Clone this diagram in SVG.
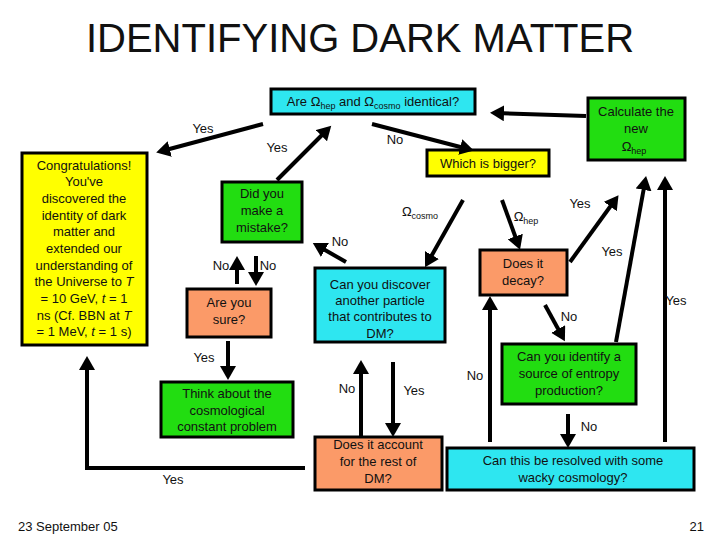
<svg xmlns="http://www.w3.org/2000/svg" width="720" height="540" viewBox="0 0 720 540">
<style>
text{font-family:"Liberation Sans",Arial,sans-serif;font-size:13px;fill:#111}
.b{stroke:#000;stroke-width:3}
.c{fill:#2ee6f0}.g{fill:#22dd11}.y{fill:#ffff00}.s{fill:#fb9a68}
.t{text-anchor:middle}
.l{stroke:#000;stroke-width:4;fill:none}
.a{marker-end:url(#ah)}
</style>
<defs><marker id="ah" markerWidth="4" markerHeight="4" refX="2" refY="2" orient="auto" markerUnits="strokeWidth"><path d="M0,0L3.5,2L0,4z" fill="#000"/></marker></defs>
<rect width="720" height="540" fill="#fff"/>
<text x="360" y="52" class="t" style="font-size:40px">IDENTIFYING DARK MATTER</text>
<g id="n-are"><rect x="271" y="89" width="204" height="25" class="b c"/><text x="373" y="106" class="t">Are Ω<tspan font-size="9" dy="3">hep</tspan><tspan dy="-3"> and Ω</tspan><tspan font-size="9" dy="3">cosmo</tspan><tspan dy="-3"> identical?</tspan></text></g>
<g id="n-calc"><rect x="588" y="98" width="97" height="62" class="b g"/><text class="t"><tspan x="636" y="116">Calculate the</tspan><tspan x="636" y="133">new</tspan><tspan x="634" y="151">Ω</tspan><tspan font-size="9" dy="3">hep</tspan></text></g>
<g id="n-congrats"><rect x="22" y="153" width="125" height="192" class="b y"/><text class="t"><tspan x="84" y="170">Congratulations!</tspan><tspan x="84" y="186">You've</tspan><tspan x="84" y="203">discovered the</tspan><tspan x="84" y="220">identity of dark</tspan><tspan x="84" y="236">matter and</tspan><tspan x="84" y="253">extended our</tspan><tspan x="84" y="270">understanding of</tspan><tspan x="84" y="286">the Universe to <tspan font-style="italic">T</tspan></tspan><tspan x="84" y="303">= 10 GeV, <tspan font-style="italic">t</tspan> = 1</tspan><tspan x="84" y="320">ns (Cf. BBN at <tspan font-style="italic">T</tspan></tspan><tspan x="84" y="336">= 1 MeV, <tspan font-style="italic">t</tspan> = 1 s)</tspan></text></g>
<g id="n-which"><rect x="427" y="150" width="122" height="26" class="b y"/><text x="488" y="168" class="t">Which is bigger?</text></g>
<g id="n-did"><rect x="222" y="182" width="80" height="60" class="b g"/><text class="t"><tspan x="262" y="198">Did you</tspan><tspan x="262" y="215">make a</tspan><tspan x="262" y="232">mistake?</tspan></text></g>
<g id="n-does"><rect x="480" y="250" width="87" height="45" class="b s"/><text class="t"><tspan x="523" y="268">Does it</tspan><tspan x="523" y="285">decay?</tspan></text></g>
<g id="n-sure"><rect x="187" y="289" width="84" height="48" class="b s"/><text class="t"><tspan x="229" y="307">Are you</tspan><tspan x="229" y="324">sure?</tspan></text></g>
<g id="n-discover"><rect x="315" y="268" width="130" height="74" class="b c"/><text class="t"><tspan x="380" y="289">Can you discover</tspan><tspan x="380" y="305">another particle</tspan><tspan x="380" y="321">that contributes to</tspan><tspan x="380" y="338">DM?</tspan></text></g>
<g id="n-entropy"><rect x="502" y="344" width="134" height="60" class="b g"/><text class="t"><tspan x="569" y="361">Can you identify a</tspan><tspan x="569" y="378">source of entropy</tspan><tspan x="569" y="395">production?</tspan></text></g>
<g id="n-think"><rect x="161" y="382" width="132" height="55" class="b g"/><text class="t"><tspan x="227" y="398">Think about the</tspan><tspan x="227" y="415">cosmological</tspan><tspan x="227" y="431">constant problem</tspan></text></g>
<g id="n-account"><rect x="315" y="437" width="127" height="53" class="b s"/><text class="t"><tspan x="378" y="449">Does it account</tspan><tspan x="378" y="466">for the rest of</tspan><tspan x="378" y="483">DM?</tspan></text></g>
<g id="n-wacky"><rect x="447" y="448" width="247" height="42" class="b c"/><text class="t"><tspan x="573" y="465">Can this be resolved with some</tspan><tspan x="573" y="482">wacky cosmology?</tspan></text></g>
<g id="connectors">
<line x1="586" y1="116" x2="496" y2="113" class="l a"/>
<line x1="263" y1="124" x2="162" y2="151" class="l a"/>
<line x1="277" y1="180" x2="327" y2="130" class="l a"/>
<line x1="372" y1="124" x2="468" y2="149" class="l a"/>
<line x1="463" y1="200" x2="428" y2="262" class="l a"/>
<line x1="502" y1="200" x2="518" y2="244" class="l a"/>
<line x1="570" y1="262" x2="615" y2="200" class="l a"/>
<line x1="616" y1="342" x2="645" y2="182" class="l a"/>
<line x1="665" y1="442" x2="665" y2="182" class="l a"/>
<line x1="346" y1="262" x2="318" y2="246" class="l a"/>
<line x1="237" y1="284" x2="237" y2="262" class="l a"/>
<line x1="256" y1="256" x2="256" y2="280" class="l a"/>
<line x1="545" y1="305" x2="562" y2="336" class="l a"/>
<line x1="490" y1="442" x2="490" y2="302" class="l a"/>
<line x1="228" y1="341" x2="228" y2="374" class="l a"/>
<line x1="361" y1="436" x2="361" y2="366" class="l a"/>
<line x1="393" y1="362" x2="393" y2="431" class="l a"/>
<polyline points="305,468 87,468 87,362" class="l a"/>
<line x1="568" y1="414" x2="568" y2="442" class="l a"/>
</g>
<g id="labels">
<text x="203" y="133" class="t">Yes</text>
<text x="277" y="152" class="t">Yes</text>
<text x="395" y="144" class="t">No</text>
<text x="420" y="216" class="t">Ω<tspan font-size="9" dy="3">cosmo</tspan></text>
<text x="526" y="221" class="t">Ω<tspan font-size="9" dy="3">hep</tspan></text>
<text x="580" y="208" class="t">Yes</text>
<text x="612" y="256" class="t">Yes</text>
<text x="676" y="305" class="t">Yes</text>
<text x="340" y="246" class="t">No</text>
<text x="221" y="270" class="t">No</text>
<text x="268" y="270" class="t">No</text>
<text x="569" y="321" class="t">No</text>
<text x="475" y="380" class="t">No</text>
<text x="204" y="362" class="t">Yes</text>
<text x="347" y="393" class="t">No</text>
<text x="414" y="395" class="t">Yes</text>
<text x="173" y="484" class="t">Yes</text>
<text x="589" y="431" class="t">No</text>
<text x="18" y="531">23 September 05</text>
<text x="704" y="531" text-anchor="end">21</text>
</g>
</svg>
